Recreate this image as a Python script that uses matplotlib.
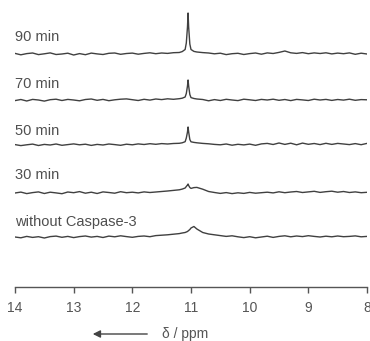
import matplotlib
matplotlib.use('Agg')
import matplotlib.pyplot as plt

plt.rcParams['font.family'] = ['Liberation Sans', 'DejaVu Sans']

# chemical shift grid (ppm)
ppm = [14.0, 13.9, 13.8, 13.7, 13.6, 13.5, 13.4, 13.3, 13.2, 13.1,
       13.0, 12.9, 12.8, 12.7, 12.6, 12.5, 12.4, 12.3, 12.2, 12.1,
       12.0, 11.9, 11.8, 11.7, 11.6, 11.5, 11.4, 11.3, 11.2, 11.15,
       11.1, 11.08, 11.06, 11.05, 11.04, 11.02, 11.0, 10.95, 10.9, 10.8,
       10.7, 10.6, 10.5, 10.4, 10.3, 10.2, 10.1, 10.0, 9.9, 9.8,
       9.7, 9.6, 9.5, 9.4, 9.3, 9.2, 9.1, 9.0, 8.9, 8.8,
       8.7, 8.6, 8.5, 8.4, 8.3, 8.2, 8.1, 8.0]

s90 = [0.6, -0.8, 0.4, 1.0, -0.6, 0.2, 1.1, -0.5, 0.0, 0.8,
       -1.0, 0.4, -0.7, 0.9, 0.1, -0.5, 0.7, 1.0, -0.3, 0.5,
       0.9, -0.2, 0.6, 1.2, 0.3, 1.0, 0.6, 1.3, 1.5, 2.4,
       4.5, 11.0, 27.0, 41.0, 27.0, 10.0, 4.5, 2.6, 2.0, 1.4,
       1.0, 0.2, 0.8, -0.6, 0.3, 0.7, -0.5, 0.4, 1.0, -0.2,
       1.1, 0.5, 1.6, 3.0, 1.2, 0.6, 1.4, 0.3, 1.1, 0.5,
       1.2, 0.1, 0.9, 0.3, 1.1, -0.3, 0.8, 0.0]

s70 = [-0.6, 0.5, -1.0, 0.6, 0.0, -1.1, 0.3, 0.8, -0.5, 0.6,
       0.0, -0.8, 0.5, 1.0, -0.3, 0.6, -0.7, 0.2, 0.8, 1.1,
       0.3, -0.5, 0.7, -0.1, 1.0, 0.4, 1.2, 0.7, 1.3, 1.8,
       3.0, 6.5, 14.0, 20.0, 14.0, 5.5, 2.4, 1.5, 1.0, 0.5,
       -0.8, 0.4, -0.5, 0.7, 0.0, -0.6, 0.8, 0.2, -0.5, 0.6,
       0.0, 0.8, -0.3, 0.5, -0.6, 0.6, 0.1, -0.5, 0.8, 0.0,
       0.6, -0.4, 0.5, -0.1, 0.8, -0.3, 0.4, 0.2]

s50 = [0.4, -0.6, 0.2, 0.9, -0.5, 0.6, 0.0, 1.0, -0.3, 0.4,
       1.1, 0.2, 0.8, -0.4, 0.6, 0.0, 1.0, 0.4, -0.3, 0.8,
       0.2, 1.1, 0.5, 1.3, 0.7, 1.4, 1.0, 1.5, 1.7, 2.2,
       3.3, 7.0, 13.0, 18.0, 13.0, 5.5, 3.2, 2.6, 2.2, 1.6,
       1.2, 0.6, 0.2, 1.0, -0.2, 0.7, 0.1, 0.9, -0.3, 1.1,
       1.6, 0.5, 2.0, 0.6, 1.8, 0.2, 1.9, 0.7, 1.5, 0.4,
       1.7, 0.6, 1.6, 1.0, 0.4, 1.4, 0.3, 1.6]

s30 = [0.0, 0.9, -0.6, 0.4, 1.1, -0.5, 0.8, 0.1, -0.7, 1.0,
       0.3, 1.4, -0.2, 0.8, -0.5, 1.1, 0.5, -0.2, 1.3, 0.3,
       0.8, 0.1, 1.1, 0.5, 1.0, 1.5, 2.0, 2.6, 3.2, 3.9,
       5.0, 6.5, 8.0, 9.0, 7.5, 5.5, 4.6, 5.4, 5.6, 3.8,
       1.5, 0.5, -0.4, 0.4, -0.6, 0.2, -0.4, 0.6, -0.2, 0.3,
       0.8, 0.1, 1.2, 0.3, 1.0, 1.5, 0.5, 1.1, 1.7, 0.6,
       1.3, 1.8, 0.8, 1.5, 0.5, 1.1, 0.3, 0.7]

s_without = [0.0, -0.8, 0.6, -0.4, 0.3, -1.0, 0.4, 0.9, -0.3, 0.6,
             -0.6, 0.4, 1.0, -0.1, 0.6, -0.5, 0.9, 0.2, 1.2, 0.4,
             -0.3, 0.6, 1.0, 0.3, 1.4, 1.8, 2.2, 2.8, 3.4, 4.0,
             4.5, 5.0, 5.5, 6.0, 6.5, 7.5, 9.0, 10.5, 8.0, 4.5,
             3.0, 2.2, 1.4, 0.6, 1.2, 0.2, -0.6, 0.3, -0.8, 0.0,
             0.8, -0.4, 0.6, 1.2, 0.2, 1.0, 0.4, 1.3, 0.6, 0.0,
             0.8, 0.2, 1.0, 0.3, 0.6, 1.1, 0.2, 0.6]

labels = ['90 min', '70 min', '50 min', '30 min', 'without Caspase-3']
spectra = [s90, s70, s50, s30, s_without]
offsets = [183, 137, 92, 44, 0]
label_y = [200, 153, 106, 62, 15]

fig = plt.figure(figsize=(3.7, 3.41), dpi=100)
ax = fig.add_axes([15 / 370, 1 - 287 / 341, 352 / 370, 287 / 341])

for lab, s, off, ly in zip(labels, spectra, offsets, label_y):
    ax.plot(ppm, [v + off for v in s], color='#404040', lw=1.0)
    ax.text(14.0, ly, lab, fontsize=10.5, color='#4f4f4f', ha='left', va='center')

ax.set_xlim(14, 8)
ax.set_ylim(-50, 237)
ax.set_xticks([14, 13, 12, 11, 10, 9, 8])
ax.set_yticks([])
for side in ['top', 'left', 'right']:
    ax.spines[side].set_visible(False)
ax.spines['bottom'].set_color('#555555')
ax.spines['bottom'].set_linewidth(1.0)
ax.tick_params(axis='x', direction='out', length=4, width=1.0, color='#555555',
               labelcolor='#555555', labelsize=10, pad=6)
ax.patch.set_alpha(0)

ax.annotate('', xy=(90 / 370, 1 - 334 / 341), xytext=(150 / 370, 1 - 334 / 341),
            xycoords='figure fraction', textcoords='figure fraction',
            arrowprops=dict(arrowstyle='-|>', color='#444444', lw=1.0,
                            mutation_scale=11))
fig.text(162 / 370, 1 - 334 / 341, 'δ / ppm', fontsize=10, color='#555555',
         ha='left', va='center')

fig.savefig('out.png', dpi=100)
